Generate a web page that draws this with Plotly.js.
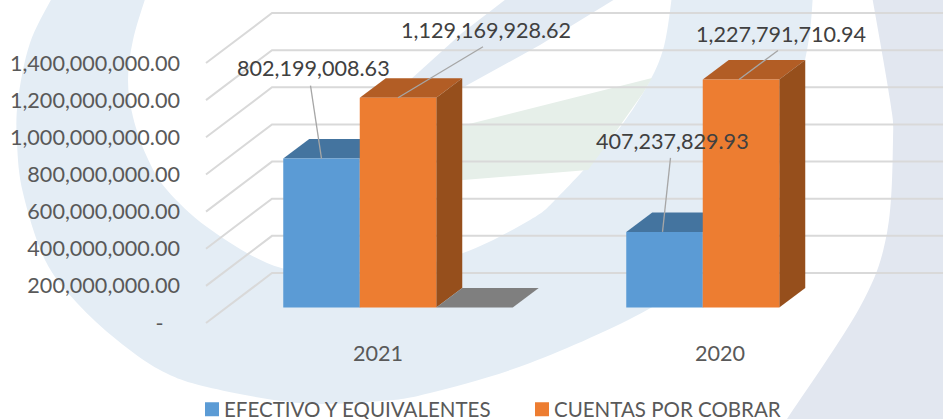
<!DOCTYPE html>
<html><head><meta charset="utf-8">
<script src="https://cdn.plot.ly/plotly-3.0.1.min.js"></script>
<style>html,body{margin:0;padding:0;background:#fff;overflow:hidden}#c{width:943px;height:419px}</style>
</head><body><div id="c"></div>
<script>
// ---- data ----
const years = ['2021', '2020'];
const efectivo = [802199008.63, 407237829.93];
const cuentas = [1129169928.62, 1227791710.94];
const otros = [0, null];
const tickValues = [0, 200e6, 400e6, 600e6, 800e6, 1000e6, 1200e6, 1400e6];
const tickLabels = ['-\u00A0\u00A0\u00A0', '200,000,000.00', '400,000,000.00', '600,000,000.00', '800,000,000.00', '1,000,000,000.00', '1,200,000,000.00', '1,400,000,000.00'];
const seriesNames = ['EFECTIVO Y EQUIVALENTES', 'CUENTAS POR COBRAR'];

// ---- geometry ----
const W = 943, H = 419, L = 181, T = 0, PH = 338;
const pitch = 343, group0 = 398, barPx = 76.5;
const unitsPerPx = 200e6 / 37.14;
const zeroLabelPx = 323, zeroBarPx = 307.5;
const gridDepth = [66, 50], barDepth = [26, 19.5];
const pxToX = p => (p - group0) / pitch;
const dX = p => p / pitch;
const dY = p => p * unitsPerPx;
const planeGap = dY(zeroLabelPx - zeroBarPx);
const slotX = (i, s) => i + (s - 1) * barPx / pitch;
const halfBar = barPx / pitch / 2;

// ---- watermark outlines (page pixels) ----
const ringOuter = [[813,-4],[805,60],[770,190],[710,262],[647,310],[530,363],[430,393],[380,401],[300,403],[207,387],[160,370],[117,340],[77,303],[45,260],[23,193],[17,143],[18,100],[30,43],[53,-4]];
const ringInner = [[146,-4],[133,40],[128,80],[133,117],[147,157],[167,190],[207,227],[267,263],[320,274],[380,275],[463,253],[530,220],[558,197],[610,140],[643,93],[663,50],[672,-4]];
const blade = [[410,80],[462,33],[510,-4],[620,-4],[540,45],[462,88]];
const leaf = [[440,130],[473,123],[652,78],[643,93],[610,140],[588,170],[463,180],[440,183]];
const sideEdge = [[872,-4],[890,100],[893,140],[887,233],[860,307],[785,422]];

const ppx = p => (p[0] - L) / (W - L);
const ppy = p => 1 - (p[1] - T) / PH;
function spline(pts, move) {
  let d = (move ? 'M' : 'L') + ppx(pts[0]) + ',' + ppy(pts[0]);
  for (let i = 0; i < pts.length - 1; i++) {
    const a = pts[Math.max(i - 1, 0)], b = pts[i], c = pts[i + 1], e = pts[Math.min(i + 2, pts.length - 1)];
    const c1 = [b[0] + (c[0] - a[0]) / 6, b[1] + (c[1] - a[1]) / 6];
    const c2 = [c[0] - (e[0] - b[0]) / 6, c[1] - (e[1] - b[1]) / 6];
    d += 'C' + ppx(c1) + ',' + ppy(c1) + ' ' + ppx(c2) + ',' + ppy(c2) + ' ' + ppx(c) + ',' + ppy(c);
  }
  return d;
}
const poly = pts => pts.map((p, i) => (i ? 'L' : 'M') + ppx(p) + ',' + ppy(p)).join('') + 'Z';
const shape = (path, fill) => ({type: 'path', xref: 'paper', yref: 'paper', layer: 'below', path, fillcolor: fill, line: {width: 0}});
const shapes = [
  shape(spline(ringOuter, true) + spline(ringInner, false) + 'Z', '#e4edf5'),
  shape(poly(blade), '#e2eaf3'),
  shape(poly(leaf), '#e6efe9'),
  shape(spline(sideEdge, true) + 'L' + ppx([950,422]) + ',' + ppy([950,422]) + 'L' + ppx([950,-4]) + ',' + ppy([950,-4]) + 'Z', '#e2e7f0')
];

// ---- grid ----
const gx = [], gy = [];
tickValues.forEach(v => {
  gx.push(pxToX(206), pxToX(206 + gridDepth[0]), pxToX(W), null);
  gy.push(v, v + dY(gridDepth[1]), v + dY(gridDepth[1]), null);
});
const gridTrace = {type: 'scatter', mode: 'lines', x: gx, y: gy, line: {color: '#d9d9d9', width: 2}, hoverinfo: 'skip', showlegend: false, xaxis: 'x', yaxis: 'y'};

// ---- 3D faces ----
function face(xs, ys, color) {
  return {type: 'scatter', mode: 'lines', x: xs, y: ys, fill: 'toself', fillcolor: color, line: {width: 0, color}, hoverinfo: 'skip', showlegend: false, xaxis: 'x', yaxis: 'y'};
}
const faces = [];
function addFaces(values, s, topColor, sideColor) {
  values.forEach((v, i) => {
    if (v === null) return;
    const a = slotX(i, s) - halfBar, b = slotX(i, s) + halfBar;
    const dx = dX(barDepth[0]), dy = dY(barDepth[1]);
    const t = v + planeGap;
    faces.push(face([a, b, b + dx, a + dx, a], [t, t, t + dy, t + dy, t], topColor));
    if (sideColor) faces.push(face([b, b + dx, b + dx, b, b], [planeGap, planeGap + dy, t + dy, t, planeGap], sideColor));
  });
}
addFaces(efectivo, 0, '#44749f', '#3a6387');
addFaces(cuentas, 1, '#b25d25', '#964f1c');
addFaces(otros, 2, '#7f7f7f', null);

// ---- bars ----
const bar = (name, y, color, legend) => ({type: 'bar', name, x: [0, 1], y, marker: {color}, showlegend: legend, hoverinfo: 'skip', xaxis: 'x', yaxis: 'y2'});
const bars = [bar(seriesNames[0], efectivo, '#5b9bd5', true), bar(seriesNames[1], cuentas, '#ed7d31', true), bar('', otros, '#7f7f7f', false)];

// ---- data labels and leaders ----
const fmt = v => v.toLocaleString('en-US', {minimumFractionDigits: 2, maximumFractionDigits: 2});
const labelSpec = [
  {s: 0, i: 0, vals: efectivo, tip: [0, 0],  lead: [-11, 73],  text: [-8, 91]},
  {s: 1, i: 0, vals: cuentas,  tip: [0, 0],  lead: [85, 51],   text: [88, 68]},
  {s: 0, i: 1, vals: efectivo, tip: [-2, 0], lead: [6, 74],    text: [8, 91]},
  {s: 1, i: 1, vals: cuentas,  tip: [-2, 0], lead: [37, 29],   text: [40, 46]}
];
const lx = [], ly = [], annotations = [];
labelSpec.forEach(o => {
  const c = slotX(o.i, o.s), v = o.vals[o.i];
  lx.push(c + dX(o.tip[0]), c + dX(o.lead[0]), null);
  ly.push(v, v + dY(o.lead[1]), null);
  annotations.push({xref: 'x', yref: 'y2', x: c, y: v, xshift: o.text[0], yshift: o.text[1], text: fmt(v), showarrow: false, xanchor: 'center', yanchor: 'middle', font: {family: 'Lato', size: 21.6, color: '#404040'}});
});
const leaders = {type: 'scatter', mode: 'lines', x: lx, y: ly, line: {color: '#a6a6a6', width: 1.3}, hoverinfo: 'skip', showlegend: false, xaxis: 'x', yaxis: 'y2'};

const font = {family: 'Lato', size: 21.6, color: '#595959'};
const layout = {
  width: W, height: H, margin: {l: L, r: 0, t: T, b: H - PH - T, autoexpand: false},
  paper_bgcolor: '#fff', plot_bgcolor: 'rgba(0,0,0,0)', font, shapes, annotations,
  barmode: 'group', bargap: 1 - 3 * barPx / pitch, bargroupgap: 0,
  showlegend: true,
  legend: {orientation: 'h', x: (184 - L) / (W - L), xanchor: 'left', y: 1 - (409.5 - T) / PH, yanchor: 'middle', font: {family: 'Lato', size: 20.5, color: '#595959'}, bgcolor: 'rgba(0,0,0,0)', entrywidth: 285, entrywidthmode: 'pixels', traceorder: 'normal'},
  xaxis: {type: 'linear', range: [pxToX(L), pxToX(W)], tickmode: 'array', tickvals: [pxToX(378), pxToX(720)], ticktext: years, ticks: '', showgrid: false, zeroline: false, showline: false, tickfont: font},
  yaxis: {range: [-(PH - zeroLabelPx) * unitsPerPx, zeroLabelPx * unitsPerPx], tickmode: 'array', tickvals: tickValues, ticktext: tickLabels, ticks: '', showgrid: false, zeroline: false, showline: false, tickfont: font},
  yaxis2: {overlaying: 'y', side: 'left', range: [-(PH - zeroBarPx) * unitsPerPx, zeroBarPx * unitsPerPx], showticklabels: false, ticks: '', showgrid: false, zeroline: false, showline: false}
};
Plotly.newPlot('c', [gridTrace, ...faces, ...bars, leaders], layout, {displayModeBar: false, staticPlot: true}).then(() => {
  // Excel-style legend key: slightly larger square, closer to its text.
  document.querySelectorAll('.legend .legendpoints').forEach(g => {
    g.setAttribute('transform', 'translate(8,0)');
    g.querySelectorAll('path').forEach(p => p.setAttribute('d', 'M7,7H-7V-7H7Z'));
  });
});
</script></body></html>
